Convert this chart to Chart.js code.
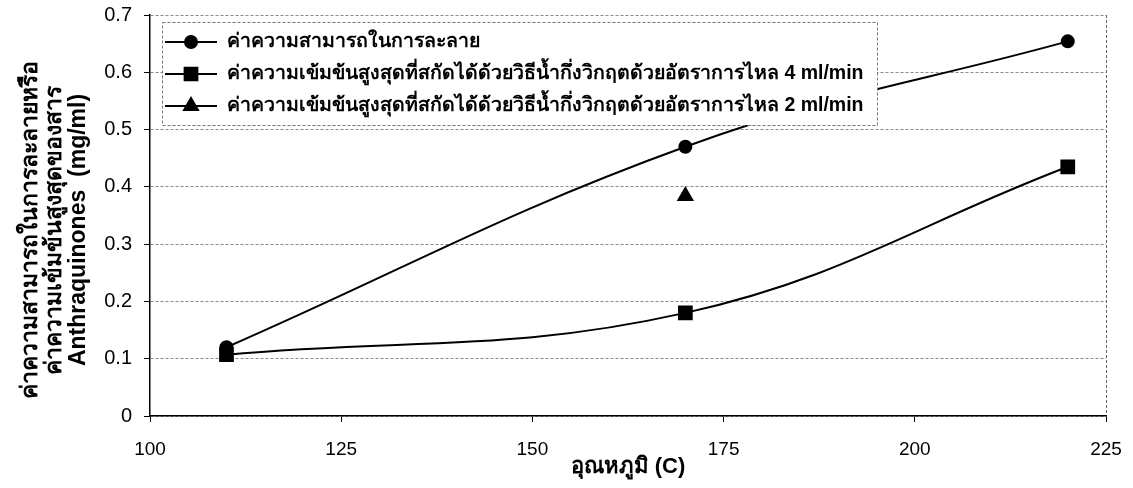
<!DOCTYPE html>
<html>
<head>
<meta charset="utf-8">
<script src="https://cdn.jsdelivr.net/npm/chart.js@4.4.1/dist/chart.umd.min.js"></script>
<style>
  html, body { margin: 0; padding: 0; background: #fff; }
  #wrap { width: 1133px; height: 488px; }
</style>
</head>
<body>
<div id="wrap"><canvas id="canvas" width="1133" height="488"></canvas></div>
<script>
const temps = [110, 170, 220]
const solubility = [0.12, 0.47, 0.654]
const conc4 = [0.107, 0.18, 0.435]
const conc2Temps = [170]
const conc2 = [0.384]

const labelSol = 'ค่าความสามารถในการละลาย'
const label4 = 'ค่าความเข้มข้นสูงสุดที่สกัดได้ด้วยวิธีน้ำกึ่งวิกฤตด้วยอัตราการไหล 4 ml/min'
const label2 = 'ค่าความเข้มข้นสูงสุดที่สกัดได้ด้วยวิธีน้ำกึ่งวิกฤตด้วยอัตราการไหล 2 ml/min'

const yTitle = ['ค่าความสามารถในการละลายหรือ', 'ค่าความเข้มข้นสูงสุดของสาร', 'Anthraquinones  (mg/ml)']
const xTitle = 'อุณหภูมิ (C)'

const FONT = "'Liberation Sans', Arial, sans-serif"

const toPoints = (xs, ys) => xs.map((x, i) => ({x: x, y: ys[i]}))

// legend drawn inside the plot area, over the lines
const insideLegend = {
  id: 'insideLegend',
  afterDatasetsDraw(chart) {
    const ctx = chart.ctx
    const area = chart.chartArea
    const bx = area.left + 12, by = area.top + 7, bw = 715, bh = 103
    ctx.save()
    ctx.fillStyle = '#fff'
    ctx.fillRect(bx, by, bw, bh)
    ctx.strokeStyle = '#777'
    ctx.lineWidth = 1
    ctx.setLineDash([3, 2])
    ctx.strokeRect(bx + 0.5, by + 0.5, bw, bh)
    ctx.setLineDash([])
    chart.data.datasets.forEach((ds, i) => {
      const cy = by + 20 + i * 32
      ctx.strokeStyle = '#000'
      ctx.fillStyle = '#000'
      ctx.lineWidth = 2
      ctx.beginPath()
      ctx.moveTo(bx + 3, cy)
      ctx.lineTo(bx + 55, cy)
      ctx.stroke()
      Chart.helpers.drawPoint(ctx, {
        pointStyle: ds.pointStyle, radius: ds.pointRadius, rotation: 0, borderWidth: 1
      }, bx + 29, cy)
      ctx.font = 'bold 19.5px ' + FONT
      ctx.textBaseline = 'middle'
      ctx.fillText(ds.label, bx + 65, cy)
    })
    ctx.restore()
  }
}

// three-line rotated y title, placed like the original
const yTitlePlugin = {
  id: 'yTitlePlugin',
  afterDraw(chart) {
    const ctx = chart.ctx
    const xs = [31, 55, 79]
    ctx.save()
    ctx.fillStyle = '#000'
    ctx.font = 'bold 23px ' + FONT
    ctx.textAlign = 'center'
    ctx.textBaseline = 'middle'
    yTitle.forEach((line, i) => {
      ctx.save()
      ctx.translate(xs[i], 230)
      ctx.rotate(-Math.PI / 2)
      ctx.fillText(line, 0, 0)
      ctx.restore()
    })
    ctx.restore()
  }
}

new Chart(document.getElementById('canvas'), {
  type: 'line',
  data: {
    datasets: [
      {
        label: labelSol,
        data: toPoints(temps, solubility),
        borderColor: '#000', backgroundColor: '#000', borderWidth: 2,
        pointStyle: 'circle', pointRadius: 6, tension: 0.4
      },
      {
        label: label4,
        data: toPoints(temps, conc4),
        borderColor: '#000', backgroundColor: '#000', borderWidth: 2,
        pointStyle: 'rect', pointRadius: 9, tension: 0.4
      },
      {
        label: label2,
        data: toPoints(conc2Temps, conc2),
        borderColor: '#000', backgroundColor: '#000', borderWidth: 2,
        pointStyle: 'triangle', pointRadius: 8, showLine: false
      }
    ]
  },
  options: {
    responsive: false,
    animation: false,
    layout: { padding: { left: 8, top: 0, right: 0, bottom: 0 } },
    plugins: {
      legend: { display: false },
      tooltip: { enabled: false }
    },
    scales: {
      x: {
        type: 'linear', min: 100, max: 225,
        ticks: { stepSize: 25, color: '#000', font: { family: FONT, size: 19 }, padding: 16 },
        grid: {
          color: (c) => c.tick && c.tick.value === 225 ? '#666' : 'rgba(0,0,0,0)',
          tickColor: '#000', tickLength: 6, lineWidth: 1
        },
        border: { color: '#000', width: 1.5, dash: [3, 2] },
        title: { display: true, text: xTitle, color: '#000', font: { family: FONT, size: 22, weight: 'bold' }, padding: { top: 0, bottom: 8 } },
        afterFit: (s) => { s.height = 72; s.paddingRight = 27; s.paddingLeft = 0 }
      },
      y: {
        min: 0, max: 0.7,
        ticks: { stepSize: 0.1, color: '#000', font: { family: FONT, size: 20, lineHeight: 1 }, padding: 12 },
        grid: { color: '#8a8a8a', tickColor: '#000', tickLength: 6, lineWidth: 1 },
        border: { color: '#000', width: 1.5, dash: [3, 2] },
        afterFit: (s) => { s.width = 142; s.paddingTop = 15; s.paddingBottom = 0 }
      }
    }
  },
  plugins: [insideLegend, yTitlePlugin]
})
</script>
</body>
</html>
